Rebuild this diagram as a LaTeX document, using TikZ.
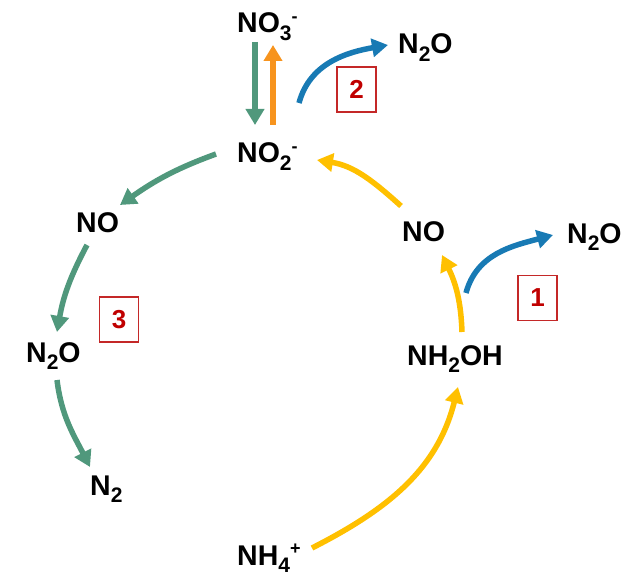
\documentclass[tikz,border=0pt]{standalone}
\usepackage{fontspec}
\setmainfont{Liberation Sans}
\usetikzlibrary{arrows.meta}
\definecolor{cgreen}{RGB}{80,152,124}
\definecolor{corange}{RGB}{247,148,30}
\definecolor{cyellow}{RGB}{255,192,0}
\definecolor{cblue}{RGB}{24,122,180}
\definecolor{cred}{RGB}{192,0,0}
\definecolor{cboxline}{RGB}{196,40,40}
\newcommand\chsub[1]{\raisebox{-0.27em}{\fontsize{21}{21}\selectfont #1}}
\newcommand\chsup[1]{\raisebox{0.36em}{\fontsize{18}{18}\selectfont #1}}
\tikzset{
  chem/.style={anchor=base west, inner sep=0pt, font=\bfseries\fontsize{28.5}{30}\selectfont},
  numbox/.style={draw=cboxline, line width=1.3pt, minimum width=39pt, minimum height=45pt, inner sep=0pt, text=cred, font=\bfseries\fontsize{26}{28}\selectfont},
  arr/.style={line width=5.5pt, -{Triangle[length=16pt,width=18pt]}},
  garr/.style={arr, cgreen},
  oarr/.style={arr, corange},
  yarr/.style={arr, cyellow},
  barr/.style={arr, cblue},
}
\begin{document}
\begin{tikzpicture}[x=1pt,y=1pt]
\useasboundingbox (0,0) rectangle (641,-578);
\node[chem] (no3) at (237,-33) {NO\chsub{3}\chsup{-}};
\node[chem] (n2oa) at (398,-54) {N\chsub{2}O};
\node[chem] (no2) at (237,-163) {NO\chsub{2}\chsup{-}};
\node[chem] (nor) at (402,-241) {NO};
\node[chem] (n2ob) at (567,-243) {N\chsub{2}O};
\node[chem] (nh2oh) at (407,-365) {NH\chsub{2}OH};
\node[chem] (nh4) at (237,-565) {NH\chsub{4}\chsup{+}};
\node[chem] (nol) at (76,-233) {NO};
\node[chem] (n2ol) at (26,-362) {N\chsub{2}O};
\node[chem] (n2) at (90,-495) {N\chsub{2}};
\node[numbox] (b2) at (356.5,-89.5) {2};
\node[numbox] (b1) at (537.5,-298) {1};
\node[numbox] (b3) at (119,-319.5) {3};
% stage 2
\draw[garr] ([shift={(18,-9)}]no3.base west) -- ([shift={(18,38)}]no2.base west);
\draw[oarr] ([shift={(36,38)}]no2.base west) -- ([shift={(36,-12)}]no3.base west);
\draw[barr] ([shift={(62,60)}]no2.base west) to[out=75,in=190] ([shift={(-10,9)}]n2oa.base west);
% stage 1
\draw[yarr] ([shift={(75,17)}]nh4.base west) to[out=27,in=-104] ([shift={(51,-22)}]nh2oh.base west);
\draw[yarr] ([shift={(55,33)}]nh2oh.base west) to[out=92,in=-64] ([shift={(40,-14)}]nor.base west);
\draw[yarr] ([shift={(-1,35)}]nor.base west) to[out=138,in=-9] ([shift={(80,3)}]no2.base west);
\draw[barr] ([shift={(59,72)}]nh2oh.base west) to[out=75,in=195] ([shift={(-14,8)}]n2ob.base west);
% stage 3
\draw[garr] ([shift={(-21,9)}]no2.base west) to[out=200,in=35] ([shift={(44,28)}]nol.base west);
\draw[garr] ([shift={(11,-12)}]nol.base west) to[out=242,in=80] ([shift={(31,30)}]n2ol.base west);
\draw[garr] ([shift={(31,-18)}]n2ol.base west) to[out=-83,in=117] ([shift={(0,28)}]n2.base west);
\end{tikzpicture}
\end{document}
